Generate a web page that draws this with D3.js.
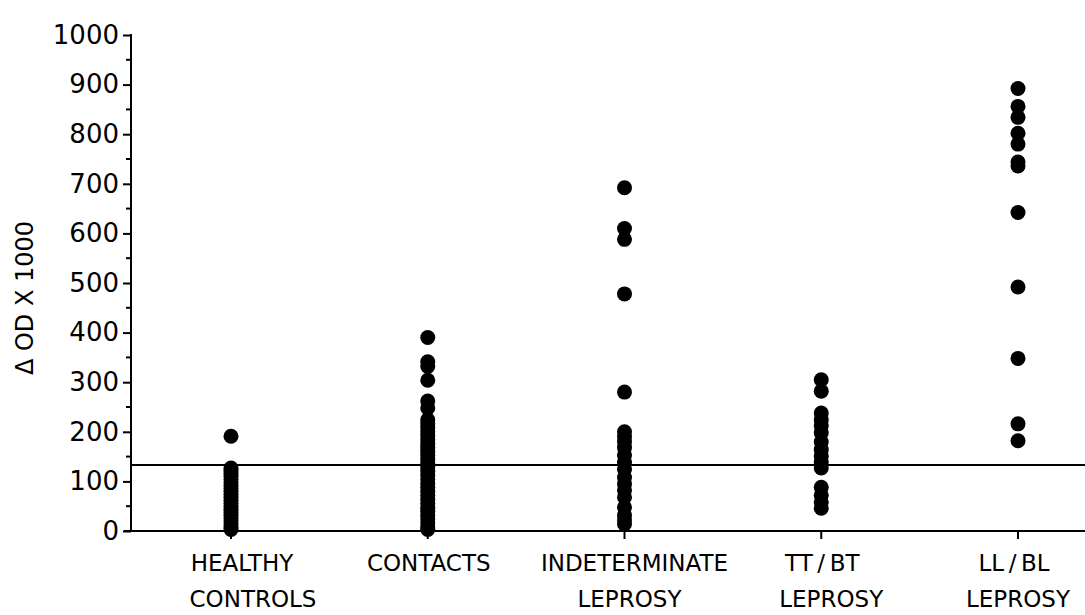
<!DOCTYPE html>
<meta charset="utf-8">
<body style="margin:0;background:#fff">
<svg id="chart"></svg>
<style>
.axis path, .axis line { stroke: #000; stroke-width: 2; }
.axis text { font-family: "DejaVu Sans", sans-serif; font-size: 26px; fill: #000; }
.cat { font-family: "DejaVu Sans", sans-serif; font-size: 23px; fill: #000; }
</style>
<script src="https://d3js.org/d3.v7.min.js"></script>
<script>

// categories (two label lines each)
var categories = ["HEALTHY CONTROLS", "CONTACTS", "INDETERMINATE LEPROSY", "TT/BT LEPROSY", "LL/BL LEPROSY"];
var labelLine1 = ["HEALTHY", "CONTACTS", "INDETERMINATE", "TT\u2009/\u2009BT", "LL\u2009/\u2009BL"];
var labelLine2 = ["CONTROLS", "", "LEPROSY", "LEPROSY", "LEPROSY"];

// values (ΔOD x 1000)
var healthy = [191, 127, 122, 116, 110, 104, 98, 92, 86, 80, 74, 68, 62, 56, 50, 44, 38, 32, 26, 20, 14, 8, 3];
var contacts = [390, 341, 332, 304, 262, 248, 224, 216, 208, 200, 192, 184, 176, 168, 160, 152, 144, 136, 128, 120,
                112, 104, 96, 88, 80, 72, 64, 56, 48, 40, 32, 24, 16, 8, 3];
var indeterminate = [692, 610, 588, 478, 280, 200, 190, 180, 168, 152, 138, 124, 108, 95, 82, 68, 48, 32, 22, 14];
var ttbt = [305, 282, 238, 224, 212, 198, 180, 164, 150, 138, 127, 88, 72, 58, 46];
var llbl = [892, 856, 834, 802, 780, 744, 736, 642, 492, 348, 216, 182];
var seriesValues = [healthy, contacts, indeterminate, ttbt, llbl];

var cutoff = 133;
var yTicks = [0, 100, 200, 300, 400, 500, 600, 700, 800, 900, 1000];
var yMinor = [50, 150, 250, 350, 450, 550, 650, 750, 850, 950];

var width = 1085, height = 615;
var svg = d3.select("#chart").attr("width", width).attr("height", height);

var y = d3.scaleLinear().domain([0, 1000]).range([531, 35]);
var x = d3.scalePoint().domain(categories).range([231, 1018]);
var axisX = 131;

// y axis
svg.append("g")
    .attr("class", "axis")
    .attr("transform", "translate(" + axisX + ",0)")
    .call(d3.axisLeft(y).tickValues(yTicks).tickSize(8).tickPadding(4).tickFormat(d3.format("d")))
    .call(g => g.select(".domain").attr("d", "M0," + y(0) + "V" + (y(1000) - 1)));

// minor ticks
svg.append("g")
    .attr("class", "axis")
    .selectAll("line")
    .data(yMinor)
    .enter()
    .append("line")
      .attr("x1", axisX - 5).attr("x2", axisX)
      .attr("y1", d => y(d)).attr("y2", d => y(d));

// x axis line + category ticks
svg.append("line")
    .attr("x1", axisX - 7).attr("x2", width)
    .attr("y1", y(0)).attr("y2", y(0))
    .attr("stroke", "#000").attr("stroke-width", 2);

svg.append("g")
    .selectAll("line")
    .data(categories)
    .enter()
    .append("line")
      .attr("x1", d => x(d)).attr("x2", d => x(d))
      .attr("y1", y(0)).attr("y2", y(0) + 8)
      .attr("stroke", "#000").attr("stroke-width", 2);

// cutoff line
svg.append("line")
    .attr("x1", axisX).attr("x2", width)
    .attr("y1", y(cutoff)).attr("y2", y(cutoff))
    .attr("stroke", "#000").attr("stroke-width", 2);

// dots
categories.forEach(function(c, i) {
  svg.append("g")
    .selectAll("circle")
    .data(seriesValues[i])
    .enter()
    .append("circle")
      .attr("cx", x(c))
      .attr("cy", d => y(d))
      .attr("r", 7.5)
      .attr("fill", "#000");
});

// category labels (small nudges to follow the typed layout)
var dx1 = [11, 1, 10, 1, -4];
var dx2 = [22, 0, 5, 10, 0];
var labels = svg.append("g");
categories.forEach(function(c, i) {
  labels.append("text").attr("class", "cat")
    .attr("x", x(c) + dx1[i]).attr("y", 571)
    .attr("text-anchor", "middle")
    .text(labelLine1[i]);
  labels.append("text").attr("class", "cat")
    .attr("x", x(c) + dx2[i]).attr("y", 607)
    .attr("text-anchor", "middle")
    .text(labelLine2[i]);
});

// y axis title
svg.append("text")
    .attr("transform", "translate(33,298) rotate(-90)")
    .attr("text-anchor", "middle")
    .style("font-family", "DejaVu Sans, sans-serif")
    .style("font-size", "24px")
    .text("Δ OD X 1000");

</script>
</body>
